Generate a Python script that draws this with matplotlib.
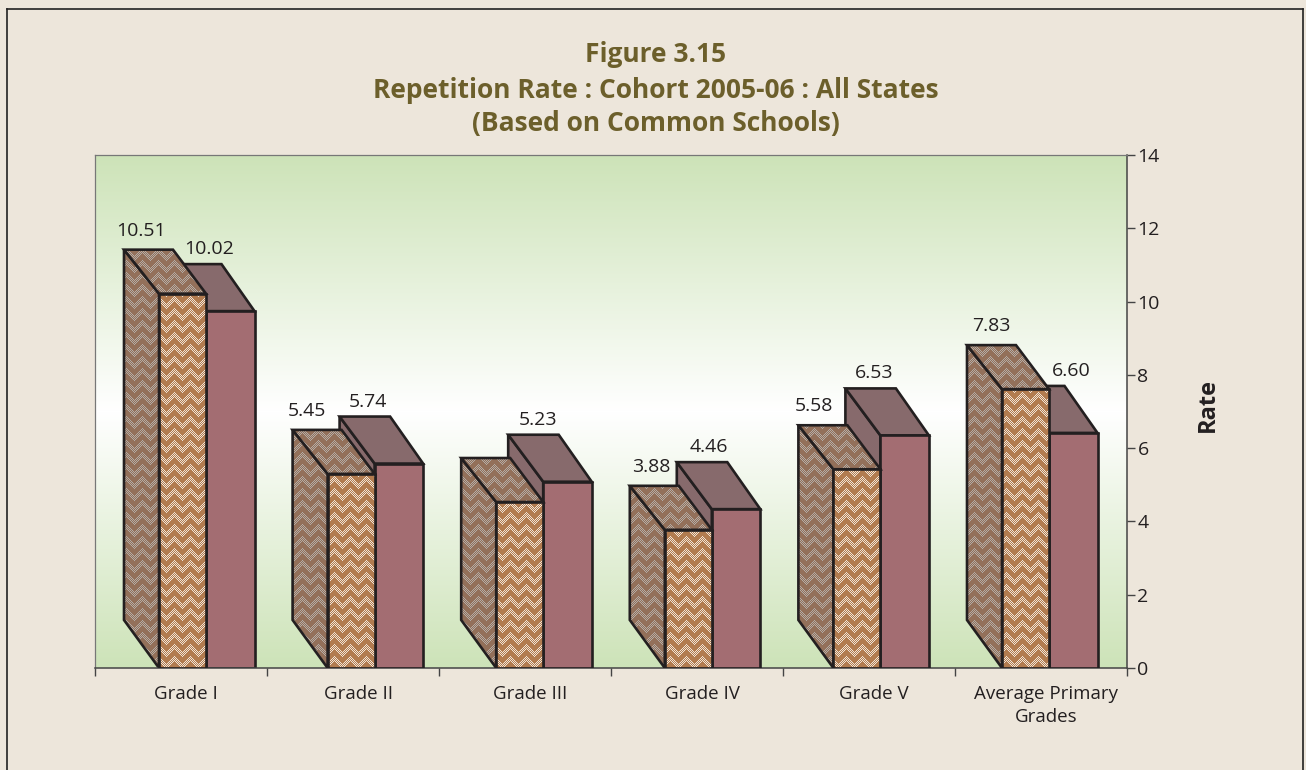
import numpy as np
import matplotlib
matplotlib.use('Agg')
import matplotlib.pyplot as plt
from matplotlib.patches import Polygon
from matplotlib.colors import to_rgb
from matplotlib.lines import Line2D

# values as printed on the chart (Grade III first bar has no printed label, estimated)
categories = ['Grade I', 'Grade II', 'Grade III', 'Grade IV', 'Grade V', 'Average Primary\nGrades']
series_a = [10.51, 5.45, 4.66, 3.88, 5.58, 7.83]
series_b = [10.02, 5.74, 5.23, 4.46, 6.53, 6.60]
labels_a = ['10.51', '5.45', None, '3.88', '5.58', '7.83']
labels_b = ['10.02', '5.74', '5.23', '4.46', '6.53', '6.60']
y_ticks = [0, 2, 4, 6, 8, 10, 12, 14]

# label nudges in px, relative to the front-left corner of each bar
nudge_a = [-18, -21, 0, -14, -19, -11]
nudge_b = [3, -7, -5, -3, -6, 22]

W, H = 1306, 770
L, R, T, B = 95, 1127, 155, 668
BG = '#ede6db'
INK = '#231f20'
font = ['Open Sans', 'DejaVu Sans']
plt.rcParams['font.family'] = font

fig = plt.figure(figsize=(W / 100, H / 100), dpi=100, facecolor=BG)
ax = fig.add_axes([L / W, 1 - B / H, (R - L) / W, (B - T) / H])
ax.set_xlim(0, 6)
ax.set_ylim(0, 14)

sx = 6 / (R - L)   # data units per px
sy = 14 / (B - T)
depth_scale = 0.972


def weave(base, light, nx, ny):
    # broken herringbone texture, one pixel per image cell
    yy, xx = np.mgrid[0:ny, 0:nx]
    tri = np.abs((xx % 16) - 8) + 3 * ((xx // 8) % 2)
    band = ((yy + tri) % 12) < 6
    dots = ((xx + yy) % 2 == 0)
    img = np.ones((ny, nx, 3)) * np.array(to_rgb(base))
    img[~band & dots] = to_rgb(light)
    return img


def gradient():
    t = np.abs(np.linspace(-1, 1, B - T))[:, None, None]
    top = np.array(to_rgb('#cde3b8'))
    return np.ones((B - T, 1, 3)) * (1 - t) + top * t


ax.imshow(gradient(), extent=(0, 6, 0, 14), aspect='auto', zorder=0)
tex_front = weave('#b27c50', '#efe3d6', R - L, B - T)
tex_dark = weave('#93705a', '#b3aca6', R - L, B - T)


def textured(points, tex, z):
    poly = Polygon(points, closed=True, transform=ax.transData, fc='none', ec=INK, lw=1.9, joinstyle='miter', zorder=z + 0.1)
    ax.add_patch(poly)
    im = ax.imshow(tex, extent=(0, 6, 0, 14), aspect='auto', interpolation='nearest', zorder=z)
    im.set_clip_path(poly)


def solid(points, color, z):
    ax.add_patch(Polygon(points, closed=True, fc=color, ec=INK, lw=1.9, joinstyle='miter', zorder=z))


x0 = (159 - L) * sx
pitch = 168.6 * sx
w_a = 47 * sx
w_b = 48.5 * sx
dx_a, dy_a = 35 * sx, 44 * sy
dx_r, dy_b = 33 * sx, 47 * sy
dy_floor = 48 * sy

for i in range(len(categories)):
    base_z = 2 + i
    xa = x0 + i * pitch
    xb = xa + w_a
    xc = xb + w_b
    ha = series_a[i] * depth_scale
    hb = series_b[i] * depth_scale

    # plain bar goes behind the textured one
    z = base_z
    solid([(xb, 0), (xb - dx_a, dy_floor), (xb - dx_a, hb + dy_b), (xb, hb)], '#876a6c', z)
    solid([(xb, hb), (xb - dx_a, hb + dy_b), (xc - dx_r, hb + dy_b), (xc, hb)], '#876a6c', z + 0.1)
    solid([(xb, 0), (xc, 0), (xc, hb), (xb, hb)], '#a36d72', z + 0.2)

    z = base_z + 0.3
    textured([(xa, 0), (xa - dx_a, dy_floor), (xa - dx_a, ha + dy_a), (xa, ha)], tex_dark, z)
    textured([(xa, ha), (xa - dx_a, ha + dy_a), (xb - dx_r, ha + dy_a), (xb, ha)], tex_dark, z + 0.2)
    textured([(xa, 0), (xb, 0), (xb, ha), (xa, ha)], tex_front, z + 0.4)

    if labels_a[i]:
        ax.text(xa + nudge_a[i] * sx, ha + dy_a + 19 * sy, labels_a[i], ha='center', va='center',
                fontsize=14, color=INK, zorder=20)
    ax.text(xb + nudge_b[i] * sx, hb + dy_b + 15 * sy, labels_b[i], ha='center', va='center',
            fontsize=14, color=INK, zorder=20)

ax.yaxis.tick_right()
ax.set_yticks(y_ticks)
ax.set_xticks(range(7))
ax.set_xticklabels([])
ax.set_xticks([i + 0.53 for i in range(6)], minor=True)
ax.set_xticklabels(categories, minor=True, fontsize=13.5, color=INK, linespacing=1.35)
ax.tick_params(axis='x', which='minor', length=0, pad=12)
ax.tick_params(axis='x', which='major', length=5.5, width=1, color='#444444')
ax.tick_params(axis='y', length=5.5, width=1, color='#444444', labelsize=14, labelcolor=INK, pad=2)

for side in ['left', 'top']:
    ax.spines[side].set_color('#777777')
    ax.spines[side].set_linewidth(0.9)
for side in ['right', 'bottom']:
    ax.spines[side].set_color('#444444')
    ax.spines[side].set_linewidth(1.1)

# page frame, runs off the bottom of the page
for xs, ys in [((7, 7), (9, 770)), ((7, 1303), (9, 9)), ((1303, 1303), (9, 770))]:
    fig.add_artist(Line2D([x / W for x in xs], [1 - y / H for y in ys], color='#222222', lw=1.2))

olive = '#6c5f2b'
fig.text(656 / W, 1 - 54 / H, 'Figure 3.15', ha='center', va='center', fontsize=19, fontweight='bold', color=olive)
fig.text(656 / W, 1 - 90 / H, 'Repetition Rate : Cohort 2005-06 : All States', ha='center', va='center',
         fontsize=19, fontweight='bold', color=olive)
fig.text(656 / W, 1 - 124 / H, '(Based on Common Schools)', ha='center', va='center', fontsize=19,
         fontweight='bold', color=olive)
fig.text(1208 / W, 1 - 405 / H, 'Rate', rotation=90, ha='center', va='center', fontsize=17, fontweight='bold', color=INK)

fig.savefig('out.png', dpi=100, facecolor=BG)
